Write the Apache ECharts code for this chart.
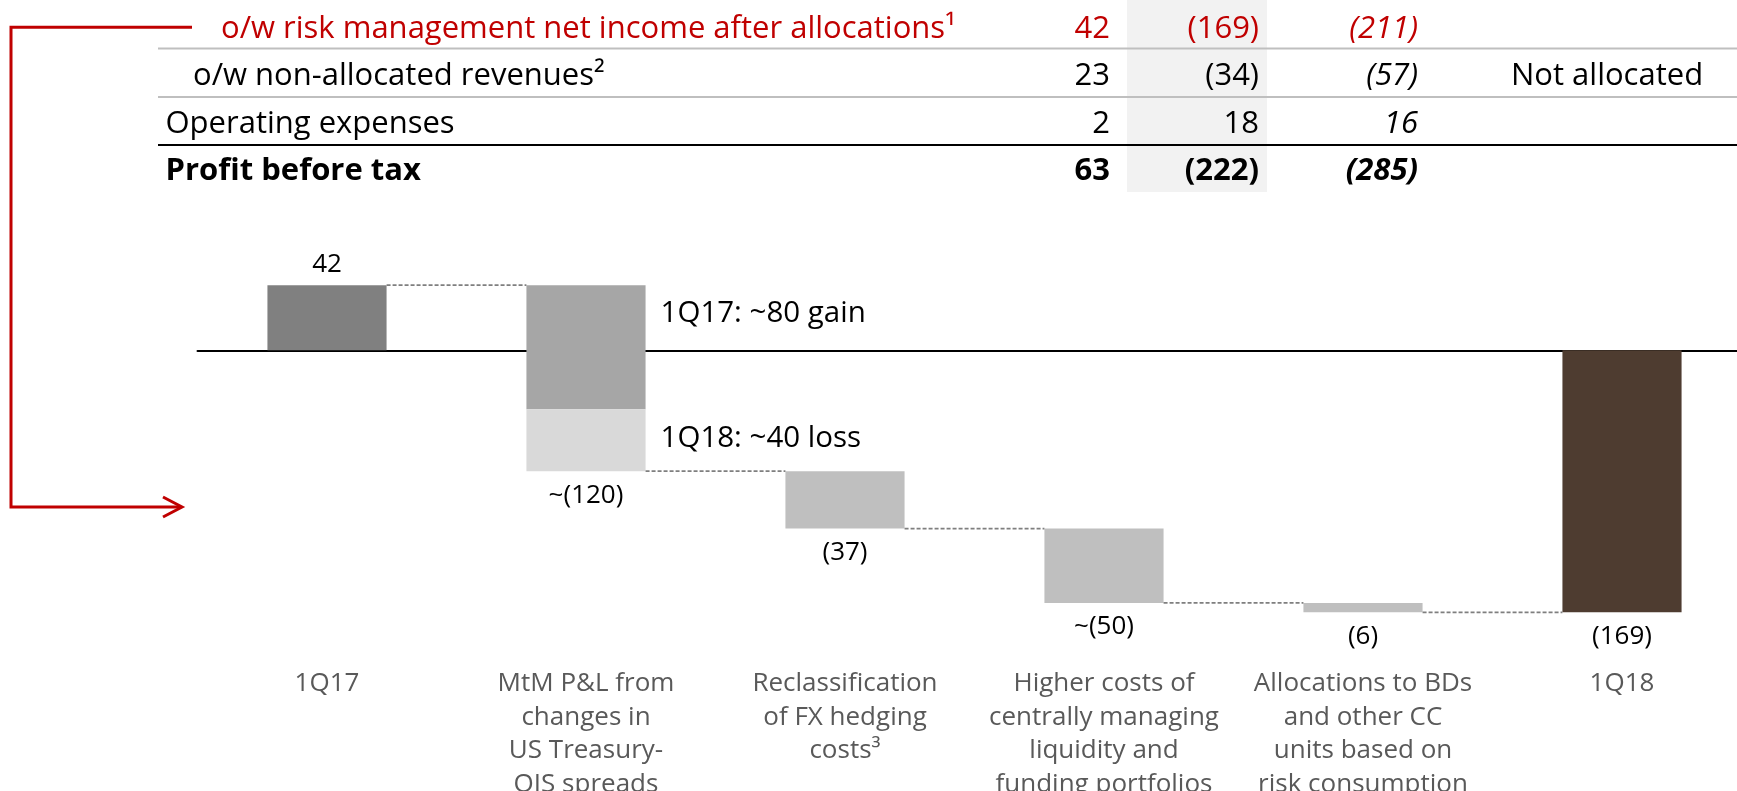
<!DOCTYPE html>
<html>
<head>
<meta charset="utf-8">
<script src="https://cdn.jsdelivr.net/npm/echarts@6/dist/echarts.min.js"></script>
<style>
  html, body { margin: 0; padding: 0; background: #ffffff; }
  #chart { width: 1737px; height: 791px; }
</style>
</head>
<body>
<div id="chart"></div>
<script>
// ---------- data ----------
const categories = [
  '1Q17',
  'MtM P&L from\nchanges in\nUS Treasury-\nOIS spreads',
  'Reclassification\nof FX hedging\ncosts³',
  'Higher costs of\ncentrally managing\nliquidity and\nfunding portfolios',
  'Allocations to BDs\nand other CC\nunits based on\nrisk consumption',
  '1Q18'
];
const startValue = 42;
const mtmGainReversal = -80;   // 1Q17: ~80 gain
const mtmLoss = -40;           // 1Q18: ~40 loss
const otherChanges = [-37, -48, -6]; // FX hedging, liquidity/funding, allocations
const endValue = -169;
const valueLabels = ['42', '~(120)', '(37)', '~(50)', '(6)', '(169)'];
const annotationTexts = ['1Q17: ~80 gain', '1Q18: ~40 loss'];
const annotationLevels = [24, -57];

const tableRowLabels = [
  'o/w risk management net income after allocations¹',
  'o/w non-allocated revenues²',
  'Operating expenses',
  'Profit before tax'
];
const table1Q17 = ['42', '23', '2', '63'];
const table1Q18 = ['(169)', '(34)', '18', '(222)'];
const tableDelta = ['(211)', '(57)', '16', '(285)'];
const tableNote = ['', 'Not allocated', '', ''];

// ---------- build waterfall geometry from values ----------
const segments = [];      // [categoryIndex, from, to]
const segColors = [];
const COLORS = { start: '#808080', mtmGain: '#a6a6a6', mtmLoss: '#d9d9d9', step: '#bfbfbf', end: '#4e3c30' };
segments.push([0, 0, startValue]); segColors.push(COLORS.start);
let level = startValue;
segments.push([1, level, level + mtmGainReversal]); segColors.push(COLORS.mtmGain);
level += mtmGainReversal;
segments.push([1, level, level + mtmLoss]); segColors.push(COLORS.mtmLoss);
level += mtmLoss;
const levels = [startValue, level];
otherChanges.forEach(function (d, i) {
  segments.push([2 + i, level, level + d]); segColors.push(COLORS.step);
  level += d;
  levels.push(level);
});
segments.push([5, 0, endValue]); segColors.push(COLORS.end);

// connectors: from bar i end level to bar i+1
const connectors = levels.map(function (v, i) { return [i, v]; });

// label anchors: [category, level, direction]
const labelAnchors = [
  [0, startValue, 1],
  [1, levels[1], -1],
  [2, levels[2], -1],
  [3, levels[3], -1],
  [4, levels[4], -1],
  [5, endValue, -1]
];
const annotationAnchors = annotationLevels.map(function (v) { return [1, v]; });

const BAR_RATIO = 0.46;
const FONT = '"Open Sans", "Noto Sans", sans-serif';

function barRender(params, api) {
  const c = api.value(0);
  const p1 = api.coord([c, api.value(1)]);
  const p2 = api.coord([c, api.value(2)]);
  const band = api.size([1, 0])[0];
  const w = band * BAR_RATIO;
  return {
    type: 'rect',
    shape: { x: p1[0] - w / 2, y: Math.min(p1[1], p2[1]), width: w, height: Math.abs(p2[1] - p1[1]) },
    style: { fill: segColors[params.dataIndex] }
  };
}
function connectorRender(params, api) {
  const c = api.value(0);
  const p = api.coord([c, api.value(1)]);
  const band = api.size([1, 0])[0];
  const w = band * BAR_RATIO;
  return {
    type: 'line',
    shape: { x1: p[0] + w / 2, y1: p[1], x2: p[0] + band - w / 2, y2: p[1] },
    style: { stroke: '#7f7f7f', lineWidth: 1.75, lineDash: [4, 2] }
  };
}
function labelRender(params, api) {
  const c = api.value(0);
  const dir = api.value(2);
  const p = api.coord([c, api.value(1)]);
  return {
    type: 'text',
    style: {
      text: valueLabels[params.dataIndex],
      x: p[0], y: p[1] - dir * (dir > 0 ? 21 : 24),
      align: 'center', verticalAlign: 'middle',
      font: '26px ' + FONT, fill: '#000000'
    }
  };
}
function annotationRender(params, api) {
  const c = api.value(0);
  const p = api.coord([c, api.value(1)]);
  const band = api.size([1, 0])[0];
  const w = band * BAR_RATIO;
  return {
    type: 'text',
    style: {
      text: annotationTexts[params.dataIndex],
      x: p[0] + w / 2 + 15, y: p[1],
      align: 'left', verticalAlign: 'middle',
      font: '29.5px ' + FONT, fill: '#000000'
    }
  };
}

// ---------- table (graphic) ----------
const rowY = [29, 76, 124, 171];
const rowX = [221, 193, 165.5, 165.5];
const graphics = [];
graphics.push({ type: 'rect', left: 1127, top: 0, shape: { width: 140, height: 192 }, style: { fill: '#f2f2f2' }, z: 0 });
graphics.push({ type: 'line', shape: { x1: 158, y1: 48.5, x2: 1737, y2: 48.5 }, style: { stroke: '#bfbfbf', lineWidth: 2 } });
graphics.push({ type: 'line', shape: { x1: 158, y1: 97, x2: 1737, y2: 97 }, style: { stroke: '#bfbfbf', lineWidth: 2 } });
graphics.push({ type: 'line', shape: { x1: 158, y1: 145, x2: 1737, y2: 145 }, style: { stroke: '#000000', lineWidth: 2 } });
graphics.push({ type: 'polyline', shape: { points: [[192, 27.3], [11, 27.3], [11, 507], [181, 507]] }, style: { stroke: '#c00000', lineWidth: 3, fill: null } });
graphics.push({ type: 'polyline', shape: { points: [[163, 497], [182, 507], [163, 517]] }, style: { stroke: '#c00000', lineWidth: 3, fill: null } });
tableRowLabels.forEach(function (t, i) {
  const color = i === 0 ? '#c00000' : '#000000';
  const weight = i === 3 ? 'bold' : 'normal';
  const fs = '31px';
  graphics.push({ type: 'text', style: { text: t, x: rowX[i], y: rowY[i], align: 'left', verticalAlign: 'middle', font: weight + ' ' + fs + ' ' + FONT, fill: color } });
  graphics.push({ type: 'text', style: { text: table1Q17[i], x: 1110, y: rowY[i], align: 'right', verticalAlign: 'middle', font: weight + ' ' + fs + ' ' + FONT, fill: color } });
  graphics.push({ type: 'text', style: { text: table1Q18[i], x: 1259, y: rowY[i], align: 'right', verticalAlign: 'middle', font: weight + ' ' + fs + ' ' + FONT, fill: color } });
  graphics.push({ type: 'text', style: { text: tableDelta[i], x: 1418, y: rowY[i], align: 'right', verticalAlign: 'middle', font: 'italic ' + weight + ' ' + fs + ' ' + FONT, fill: color } });
  if (tableNote[i]) {
    graphics.push({ type: 'text', style: { text: tableNote[i], x: 1511, y: rowY[i], align: 'left', verticalAlign: 'middle', font: fs + ' ' + FONT, fill: color } });
  }
});

const chart = echarts.init(document.getElementById('chart'), null, { renderer: 'canvas' });
chart.setOption({
  animation: false,
  backgroundColor: '#ffffff',
  grid: { left: 197.5, top: 257.3, width: 1554, height: 403, containLabel: false, outerBoundsMode: 'none' },
  xAxis: [
    {
      type: 'category', data: categories, position: 'bottom',
      axisLine: { show: true, onZero: true, lineStyle: { color: '#000000', width: 2 } },
      axisTick: { show: false }, axisLabel: { show: false }, splitLine: { show: false }
    },
    {
      type: 'category', data: categories, position: 'bottom',
      axisLine: { show: false, onZero: false }, axisTick: { show: false }, splitLine: { show: false },
      axisLabel: { show: true, interval: 0, color: '#595959', fontSize: 26, lineHeight: 33.5, margin: 7, fontFamily: FONT }
    }
  ],
  yAxis: { type: 'value', min: -200, max: 60, show: false, splitLine: { show: false } },
  series: [
    { type: 'custom', renderItem: barRender, data: segments, z: 2 },
    { type: 'custom', renderItem: connectorRender, data: connectors, z: 3 },
    { type: 'custom', renderItem: labelRender, data: labelAnchors, z: 4 },
    { type: 'custom', renderItem: annotationRender, data: annotationAnchors, z: 4 }
  ],
  graphic: graphics
});
</script>
</body>
</html>
